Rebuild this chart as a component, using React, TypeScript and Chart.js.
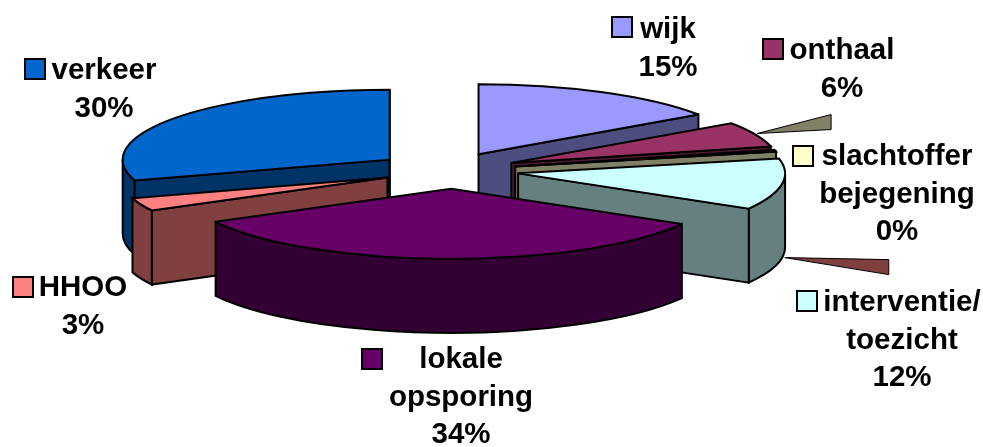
import React, { useEffect, useRef } from "react";
import { Chart, registerables } from "chart.js";

Chart.register(...registerables);

// ---- data ----
const categories = ["wijk", "onthaal", "slachtoffer bejegening", "interventie/ toezicht", "lokale opsporing", "HHOO", "verkeer"];
const values = [15.4, 5.8, 0.4, 11.8, 33.8, 3, 29.8];
const colors = ["#9999ff", "#993366", "#ffffcc", "#ccffff", "#660066", "#ff8080", "#0066cc"];
const labelLines = [["wijk"], ["onthaal"], ["slachtoffer", "bejegening"], ["interventie/", "toezicht"], ["lokale", "opsporing"], ["HHOO"], ["verkeer"]];

// ---- layout (not data) ----
const FONT = 'bold 29.5px "Liberation Sans", Arial, sans-serif';
const LINE = 37.5;
// key x, key y, text centre x, first baseline
const labelBoxes = [
  [612, 17, 668, 38],
  [763, 39, 842, 59],
  [793, 146, 897, 165],
  [797, 291, 902, 311],
  [362, 349, 461, 368],
  [13, 277, 83, 296],
  [25, 59, 104, 79],
];
const pie3d = { shiftX: -45.5, shiftY: -53, radiusX: 267, radiusY: 70, depth: 74, explode: 0.262 };
// small horizontal correction of each exploded slice, in px
const sliceNudgeX = [0, 1.5, 1, 3, 6.5, 6, 0];
// stray slivers seen in the picture: slice whose colour/anchor is used, [dx, dy] from the slice's rim end
const slivers = [
  { anchor: 2, colorOf: 2, points: [[-19, -18], [55, -37], [55, -22]] },
  { anchor: 3, colorOf: 5, points: [[36, 49], [140, 51], [140, 66]] },
];

const darken = (hex: string) => {
  const n = parseInt(hex.slice(1), 16);
  const c = [(n >> 16) & 255, (n >> 8) & 255, n & 255].map((v) => Math.round(v / 2));
  return `rgb(${c[0]},${c[1]},${c[2]})`;
};

const pie3dPlugin = {
  id: "pie3d",
  beforeDatasetsDraw(chart: any) {
    const ctx = chart.ctx as CanvasRenderingContext2D;
    const arcs = chart.getDatasetMeta(0).data as any[];
    const { shiftX, shiftY, radiusX: RX, radiusY: RY, depth, explode } = pie3d;
    const geo = arcs.map((el, i) => {
      const a0 = el.startAngle;
      const a1 = el.endAngle;
      const mid = (a0 + a1) / 2;
      const ax = el.x + shiftX + sliceNudgeX[i] + Math.cos(mid) * explode * RX;
      const ay = el.y + shiftY + Math.sin(mid) * explode * RY;
      return { i, a0, a1, ax, ay };
    });

    ctx.save();
    ctx.lineJoin = "miter";
    ctx.miterLimit = 3;
    ctx.lineWidth = 2;
    ctx.strokeStyle = "#000";

    // stray slivers
    for (const s of slivers) {
      const g = geo[s.anchor];
      const rx = g.ax + Math.cos(g.a1) * RX;
      const ry = g.ay + Math.sin(g.a1) * RY;
      ctx.beginPath();
      s.points.forEach(([dx, dy], k) => (k ? ctx.lineTo(rx + dx, ry + dy) : ctx.moveTo(rx + dx, ry + dy)));
      ctx.closePath();
      ctx.fillStyle = darken(colors[s.colorOf]);
      ctx.fill();
      ctx.lineWidth = 1;
      ctx.stroke();
      ctx.lineWidth = 2;
    }

    const ordered = [...geo].sort((p, q) => p.ay - q.ay);
    const face = (g: any, a: number) => {
      const x = g.ax + Math.cos(a) * RX;
      const y = g.ay + Math.sin(a) * RY;
      ctx.beginPath();
      ctx.moveTo(g.ax, g.ay);
      ctx.lineTo(x, y);
      ctx.lineTo(x, y + depth);
      ctx.lineTo(g.ax, g.ay + depth);
      ctx.closePath();
      ctx.fill();
      ctx.stroke();
    };
    for (const g of ordered) {
      const wall = darken(colors[g.i]);
      ctx.fillStyle = wall;
      // curved wall: only the part on the near half of the rim
      for (const [lo, hi] of [[0, Math.PI], [2 * Math.PI, 3 * Math.PI]]) {
        const s = Math.max(g.a0, lo);
        const e = Math.min(g.a1, hi);
        if (e > s) {
          ctx.beginPath();
          ctx.ellipse(g.ax, g.ay, RX, RY, 0, s, e);
          ctx.lineTo(g.ax + Math.cos(e) * RX, g.ay + Math.sin(e) * RY + depth);
          ctx.ellipse(g.ax, g.ay + depth, RX, RY, 0, e, s, true);
          ctx.closePath();
          ctx.fill();
          ctx.stroke();
        }
      }
      if (Math.cos(g.a0) < 0) face(g, g.a0);
      if (Math.cos(g.a1) > 0) face(g, g.a1);
      // top
      ctx.beginPath();
      ctx.moveTo(g.ax, g.ay);
      ctx.ellipse(g.ax, g.ay, RX, RY, 0, g.a0, g.a1);
      ctx.closePath();
      ctx.fillStyle = colors[g.i];
      ctx.fill();
      ctx.stroke();
    }

    // labels with keys
    ctx.font = FONT;
    ctx.textAlign = "center";
    ctx.textBaseline = "alphabetic";
    labelLines.forEach((lines, i) => {
      const [kx, ky, cx, base] = labelBoxes[i];
      ctx.fillStyle = colors[i];
      ctx.lineWidth = 2;
      ctx.fillRect(kx, ky, 20, 20);
      ctx.strokeRect(kx, ky, 20, 20);
      ctx.fillStyle = "#000";
      const all = [...lines, `${Math.round(values[i])}%`];
      all.forEach((t, k) => ctx.fillText(t, cx, base + k * LINE));
    });
    ctx.restore();
    return false;
  },
};

export default function App() {
  const ref = useRef<HTMLCanvasElement>(null);
  useEffect(() => {
    const chart = new Chart(ref.current!, {
      type: "pie",
      data: {
        labels: categories,
        datasets: [{ data: values, backgroundColor: colors, borderColor: "#000" }],
      },
      options: {
        animation: false,
        responsive: false,
        events: [],
        plugins: { legend: { display: false }, tooltip: { enabled: false } },
      },
      plugins: [pie3dPlugin],
    } as any);
    return () => chart.destroy();
  }, []);
  return (
    <div style={{ position: "fixed", left: 0, top: 0, width: 983, height: 447, background: "#fff" }}>
      <canvas ref={ref} width={983} height={447} style={{ display: "block" }} />
    </div>
  );
}
